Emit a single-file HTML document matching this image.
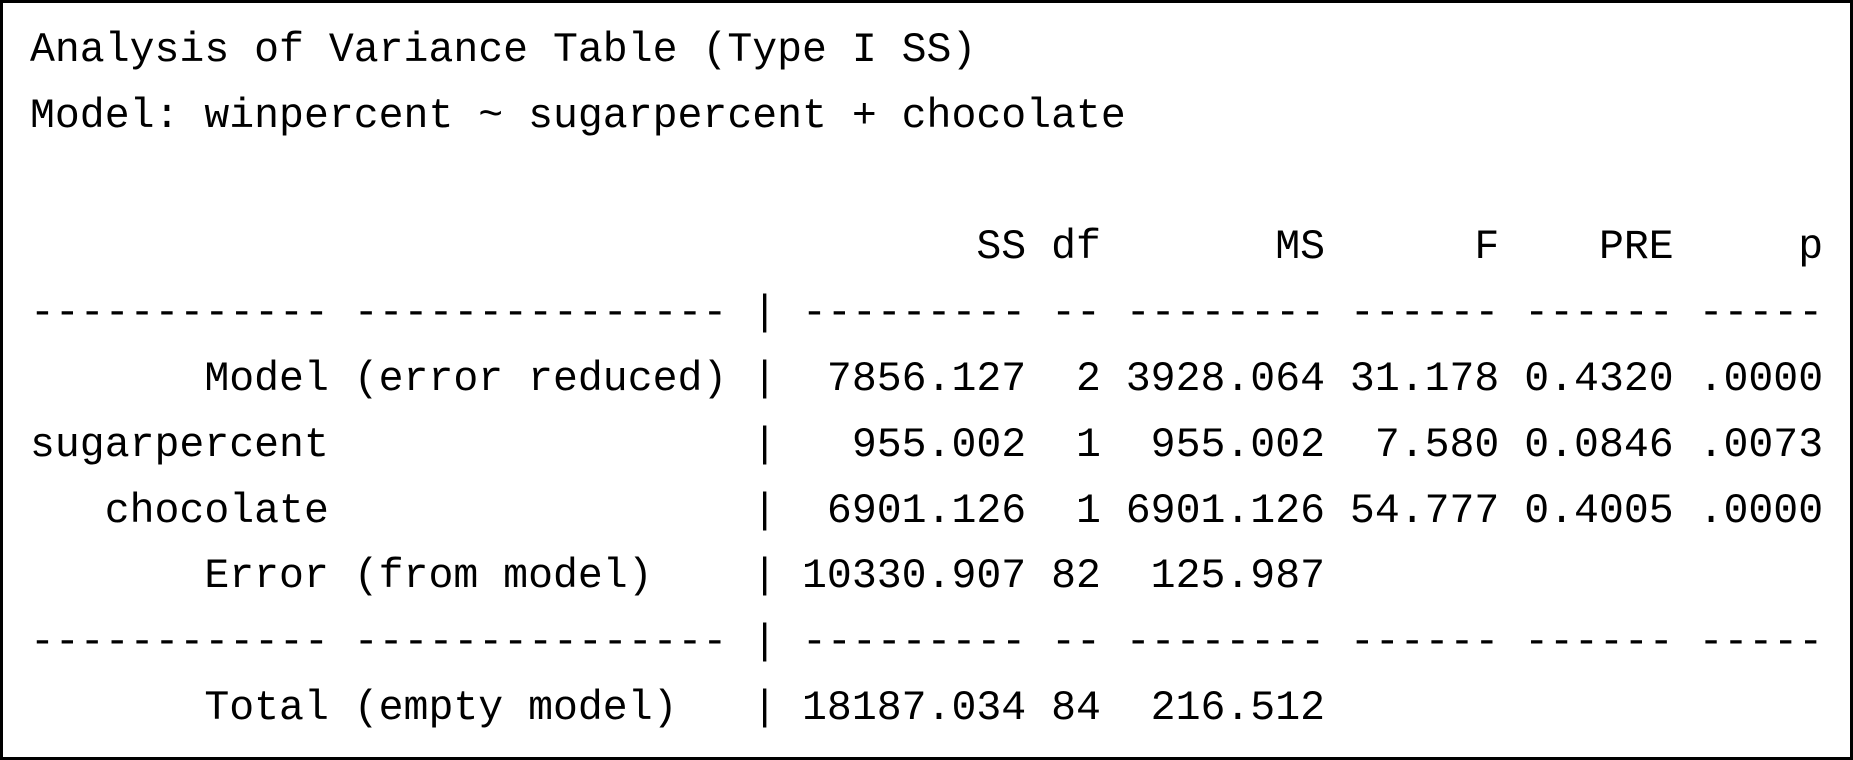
<!DOCTYPE html>
<html>
<head>
<meta charset="utf-8">
<style>
html,body{margin:0;padding:0;background:#fff;}
#frame{position:absolute;left:0;top:0;width:1853px;height:760px;box-sizing:border-box;border:3px solid #000;background:#fff;overflow:hidden;}
#out{position:absolute;left:27px;top:15px;font-family:"Liberation Mono",monospace;font-size:41.5px;line-height:65.8px;color:#000;}
.ln{white-space:pre;height:65.8px;}
</style>
</head>
<body>
<div id="frame">
<div id="out">
<div class="ln">Analysis of Variance Table (Type I SS)</div>
<div class="ln">Model: winpercent ~ sugarpercent + chocolate</div>
<div class="ln"> </div>
<div class="ln">                                      SS df       MS      F    PRE     p</div>
<div class="ln">------------ --------------- | --------- -- -------- ------ ------ -----</div>
<div class="ln">       Model (error reduced) |  7856.127  2 3928.064 31.178 0.4320 .0000</div>
<div class="ln">sugarpercent                 |   955.002  1  955.002  7.580 0.0846 .0073</div>
<div class="ln">   chocolate                 |  6901.126  1 6901.126 54.777 0.4005 .0000</div>
<div class="ln">       Error (from model)    | 10330.907 82  125.987</div>
<div class="ln">------------ --------------- | --------- -- -------- ------ ------ -----</div>
<div class="ln">       Total (empty model)   | 18187.034 84  216.512</div>
</div>
</div>
</body>
</html>
